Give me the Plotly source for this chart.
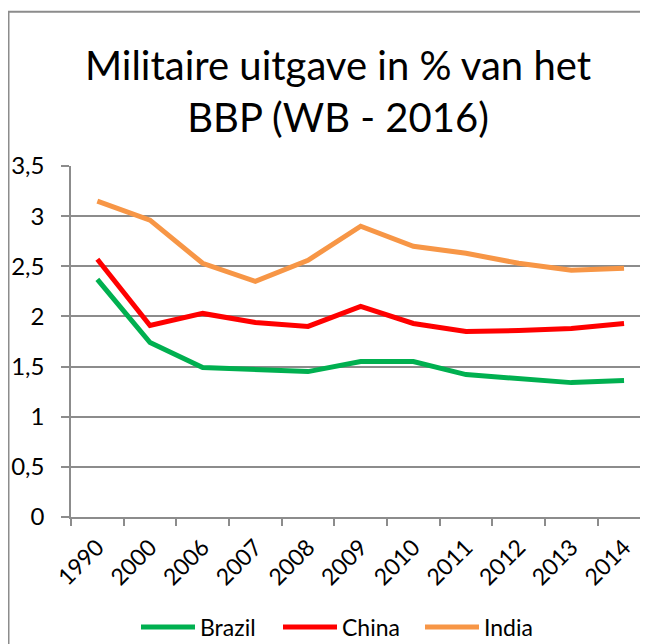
import plotly.graph_objects as go

years = ["1990", "2000", "2006", "2007", "2008", "2009", "2010", "2011", "2012", "2013", "2014"]
brazil = [2.37, 1.74, 1.49, 1.47, 1.45, 1.55, 1.55, 1.42, 1.38, 1.34, 1.36]
china = [2.57, 1.91, 2.03, 1.94, 1.90, 2.10, 1.93, 1.85, 1.86, 1.88, 1.93]
india = [3.15, 2.96, 2.53, 2.35, 2.56, 2.90, 2.70, 2.63, 2.53, 2.46, 2.48]

y_ticks = [0, 0.5, 1, 1.5, 2, 2.5, 3, 3.5]
y_labels = ["0", "0,5", "1", "1,5", "2", "2,5", "3", "3,5"]

FONT = "Lato"
GRID = "#8c8c8c"
W, H = 640, 636          # page body has an 8px margin
L, T, B = 63, 158, 127
PW, PH = W - L, H - T - B

fig = go.Figure()
for name, vals, col in [("Brazil", brazil, "#00B050"), ("China", china, "#FF0000"), ("India", india, "#F79646")]:
    fig.add_trace(go.Scatter(x=years, y=vals, name=name, mode="lines",
                             line=dict(color=col, width=5)))

fig.update_layout(
    width=W, height=H,
    margin=dict(l=L, r=0, t=T, b=B, pad=0, autoexpand=False),
    paper_bgcolor="white", plot_bgcolor="white",
    font=dict(family=FONT, color="#000000"),
    title=dict(text="Militaire uitgave in % van het<br>BBP (WB - 2016)",
               font=dict(family=FONT, size=40, color="#000000"),
               x=330 / W, xanchor="center", xref="container",
               y=1 - 72 / H, yanchor="middle", yref="container"),
    showlegend=True,
    legend=dict(orientation="h", x=128 / W, xref="container", xanchor="left",
                y=1 - 619 / H, yref="container", yanchor="middle",
                font=dict(family=FONT, size=23, color="#000000"),
                itemwidth=54, entrywidth=73, tracegroupgap=0),
    xaxis=dict(type="category", range=[-0.5, 10.455], tickson="boundaries",
               ticks="outside", ticklen=7, tickcolor=GRID, tickwidth=1.5,
               showline=True, linecolor=GRID, linewidth=1.5,
               showgrid=False, tickangle=-45, ticklabelstandoff=6,
               tickfont=dict(family=FONT, size=23, color="#000000")),
    yaxis=dict(range=[0, 3.5], tickvals=y_ticks, ticktext=y_labels,
               ticks="outside", ticklen=8, tickcolor=GRID, tickwidth=1.5,
               showline=True, linecolor=GRID, linewidth=1.5,
               showgrid=True, gridcolor=GRID, gridwidth=1.5,
               zeroline=False, ticklabelstandoff=12,
               tickfont=dict(family=FONT, size=24, color="#000000")),
    shapes=[dict(type="rect", xref="paper", yref="paper",
                 x0=(0.5 - L) / PW, x1=1.05, y0=-0.45, y1=(T + PH - 3.8) / PH,
                 line=dict(color=GRID, width=2), fillcolor="rgba(0,0,0,0)",
                 layer="below")],
)

fig.write_html("out.html")
